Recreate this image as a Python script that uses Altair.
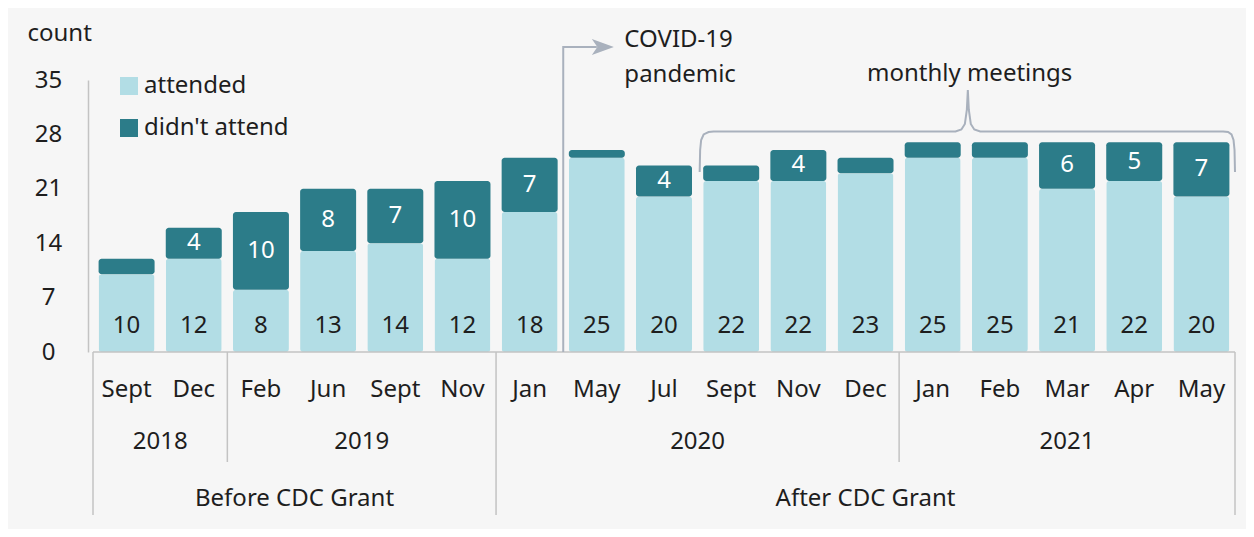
import altair as alt
import pandas as pd

# ---------------- data ----------------
months = ["Sept", "Dec", "Feb", "Jun", "Sept", "Nov", "Jan", "May", "Jul",
          "Sept", "Nov", "Dec", "Jan", "Feb", "Mar", "Apr", "May"]
years = ["2018"] * 2 + ["2019"] * 4 + ["2020"] * 6 + ["2021"] * 5
attended = [10, 12, 8, 13, 14, 12, 18, 25, 20, 22, 22, 23, 25, 25, 21, 22, 20]
didnt_attend = [2, 4, 10, 8, 7, 10, 7, 1, 4, 2, 4, 2, 2, 2, 6, 5, 7]

year_labels = ["2018", "2019", "2020", "2021"]
year_start = [0, 2, 6, 12]
year_end = [2, 6, 12, 17]
group_labels = ["Before CDC Grant", "After CDC Grant"]
group_start = [0, 6]
group_end = [6, 17]
y_ticks = [0, 7, 14, 21, 28, 35]
series = ["attended", "didn't attend"]
colors = ["#b2dde5", "#2c7c89"]

# annotation geometry (in data units: x = bar slots, y = count)
arrow_x = [7.0, 7.0, 7.5]
arrow_y = [0, 39.25, 39.25]
arrow_head_x = [7.59]
arrow_head_y = [39.25]
covid_x = [7.91]
covid_text = ["COVID-19\npandemic"]
brace_x = [9.031, 9.038, 9.053, 9.090, 9.164, 9.238, 12.839, 12.927, 12.979,
           13.008, 13.023, 13.038, 13.067, 13.119, 13.207, 16.823, 16.897,
           16.948, 16.978, 16.993, 17.0]
brace_y = [23.16, 25.99, 27.28, 27.99, 28.31, 28.37, 28.37, 28.63, 29.34,
           31.14, 33.71, 31.14, 29.34, 28.63, 28.37, 28.37, 28.31, 27.99,
           27.28, 25.99, 23.16]
brace_text_x = [13.05]
brace_text = ["monthly meetings"]

# ---------------- styling ----------------
W, H = 1152, 272
FONT = "Noto Sans"
FS = 24
TXT = "#1e1e1e"
GRAY_AX = "#c3c3c3"
ANN = "#a9b1bd"
BG = "#f6f6f6"

xscale = alt.Scale(domain=[0, 17], nice=False, zero=False)
yscale = alt.Scale(domain=[0, 35], nice=False, zero=False)
color_scale = alt.Scale(domain=series, range=colors)

df = pd.DataFrame({"idx": list(range(len(months))), "month": months, "year": years,
                   "attended": attended, "didnt": didnt_attend})

base = alt.Chart(df).transform_calculate(
    xc="datum.idx + 0.5",
    top="datum.attended + datum.didnt",
    mid="datum.attended + datum.didnt / 2",
)

X = alt.X("xc:Q", scale=xscale, axis=None)

legend = alt.Legend(orient="none", legendX=29, legendY=-6, title=None,
                    symbolType="square", symbolSize=324, symbolStrokeWidth=0,
                    labelFontSize=FS, labelFont=FONT, labelColor=TXT,
                    labelOffset=3, rowPadding=18, padding=0, labelLimit=400)

yaxis = alt.Axis(values=y_ticks, title="count", titleAngle=0, titleAlign="left",
                 titleBaseline="middle", titleX=-61, titleY=-47, titleFont=FONT,
                 titleFontSize=FS, titleFontWeight="normal", titleColor=TXT,
                 labelFont=FONT, labelFontSize=FS, labelColor=TXT,
                 labelAlign="center", labelBaseline="middle", labelPadding=40,
                 ticks=False, tickSize=0, grid=False, domainColor=GRAY_AX,
                 domainWidth=1.5)

light = base.transform_calculate(s=f'"{series[0]}"').mark_bar(
    size=56, cornerRadius=3).encode(
    x=X,
    y=alt.Y("attended:Q", scale=yscale, axis=yaxis),
    color=alt.Color("s:N", scale=color_scale, legend=legend),
)

dark = base.transform_calculate(s=f'"{series[1]}"').mark_bar(
    size=56, cornerRadius=3).encode(
    x=X,
    y=alt.Y("attended:Q", scale=yscale),
    y2="top:Q",
    color=alt.Color("s:N", scale=color_scale, legend=legend),
)

att_text = base.mark_text(font=FONT, fontSize=FS, color=TXT, baseline="middle").encode(
    x=X, y=alt.value(H - 26), text="attended:Q")

didnt_text = base.transform_filter("datum.didnt >= 4").mark_text(
    font=FONT, fontSize=FS, color="white", baseline="middle").encode(
    x=X, y=alt.Y("mid:Q", scale=yscale), text="didnt:Q")

month_text = base.mark_text(font=FONT, fontSize=FS, color=TXT, baseline="middle").encode(
    x=X, y=alt.value(H + 38), text="month:N")

ydf = pd.DataFrame({"label": year_labels, "s": year_start, "e": year_end})
year_text = alt.Chart(ydf).transform_calculate(c="(datum.s + datum.e) / 2").mark_text(
    font=FONT, fontSize=FS, color=TXT, baseline="middle").encode(
    x=alt.X("c:Q", scale=xscale, axis=None), y=alt.value(H + 90), text="label:N")

gdf = pd.DataFrame({"label": group_labels, "s": group_start, "e": group_end})
group_text = alt.Chart(gdf).transform_calculate(c="(datum.s + datum.e) / 2").mark_text(
    font=FONT, fontSize=FS, color=TXT, baseline="middle").encode(
    x=alt.X("c:Q", scale=xscale, axis=None), y=alt.value(H + 147), text="label:N")

long_b = sorted(set(group_start + group_end))
short_b = [b for b in sorted(set(year_start + year_end)) if b not in long_b]

long_rules = alt.Chart(pd.DataFrame({"b": long_b})).mark_rule(
    color=GRAY_AX, strokeWidth=1.5).encode(
    x=alt.X("b:Q", scale=xscale, axis=None), y=alt.value(H), y2=alt.value(H + 163))
short_rules = alt.Chart(pd.DataFrame({"b": short_b})).mark_rule(
    color=GRAY_AX, strokeWidth=1.5).encode(
    x=alt.X("b:Q", scale=xscale, axis=None), y=alt.value(H), y2=alt.value(H + 110))
baseline = alt.Chart(pd.DataFrame({"a": [0], "b": [17]})).mark_rule(
    color=GRAY_AX, strokeWidth=1.5).encode(
    x=alt.X("a:Q", scale=xscale, axis=None), x2="b:Q", y=alt.value(H))

arrow = alt.Chart(pd.DataFrame({"x": arrow_x, "y": arrow_y, "o": list(range(len(arrow_x)))})).mark_line(
    color=ANN, strokeWidth=2).encode(
    x=alt.X("x:Q", scale=xscale, axis=None), y=alt.Y("y:Q", scale=yscale), order="o:Q")
arrow_head = alt.Chart(pd.DataFrame({"x": arrow_head_x, "y": arrow_head_y})).mark_point(
    shape="M-1,-0.72 L1,0 L-1,0.72 L-0.5,0 Z", filled=True, size=484, color=ANN,
    opacity=1, strokeWidth=0).encode(
    x=alt.X("x:Q", scale=xscale, axis=None), y=alt.Y("y:Q", scale=yscale))
covid = alt.Chart(pd.DataFrame({"x": covid_x, "t": covid_text})).mark_text(
    font=FONT, fontSize=FS, color=TXT, align="left", baseline="alphabetic",
    lineBreak="\n", lineHeight=35).encode(
    x=alt.X("x:Q", scale=xscale, axis=None), y=alt.value(-33), text="t:N")

brace = alt.Chart(pd.DataFrame({"x": brace_x, "y": brace_y, "o": list(range(len(brace_x)))})).mark_line(
    color=ANN, strokeWidth=2).encode(
    x=alt.X("x:Q", scale=xscale, axis=None), y=alt.Y("y:Q", scale=yscale), order="o:Q")
brace_label = alt.Chart(pd.DataFrame({"x": brace_text_x, "t": brace_text})).mark_text(
    font=FONT, fontSize=FS, color=TXT, align="center", baseline="alphabetic").encode(
    x=alt.X("x:Q", scale=xscale, axis=None), y=alt.value(1), text="t:N")

chart = alt.layer(
    light, dark, baseline, long_rules, short_rules, att_text, didnt_text,
    month_text, year_text, group_text, arrow, arrow_head, covid, brace, brace_label,
).properties(
    width=W, height=H,
    autosize=alt.AutoSizeParams(type="none"),
    padding={"left": 80, "top": 72, "right": 6, "bottom": 177},
).configure(
    background=BG, font=FONT,
).configure_view(stroke=None)

chart.save("out.html", embed_options={"renderer": "svg", "actions": False})
